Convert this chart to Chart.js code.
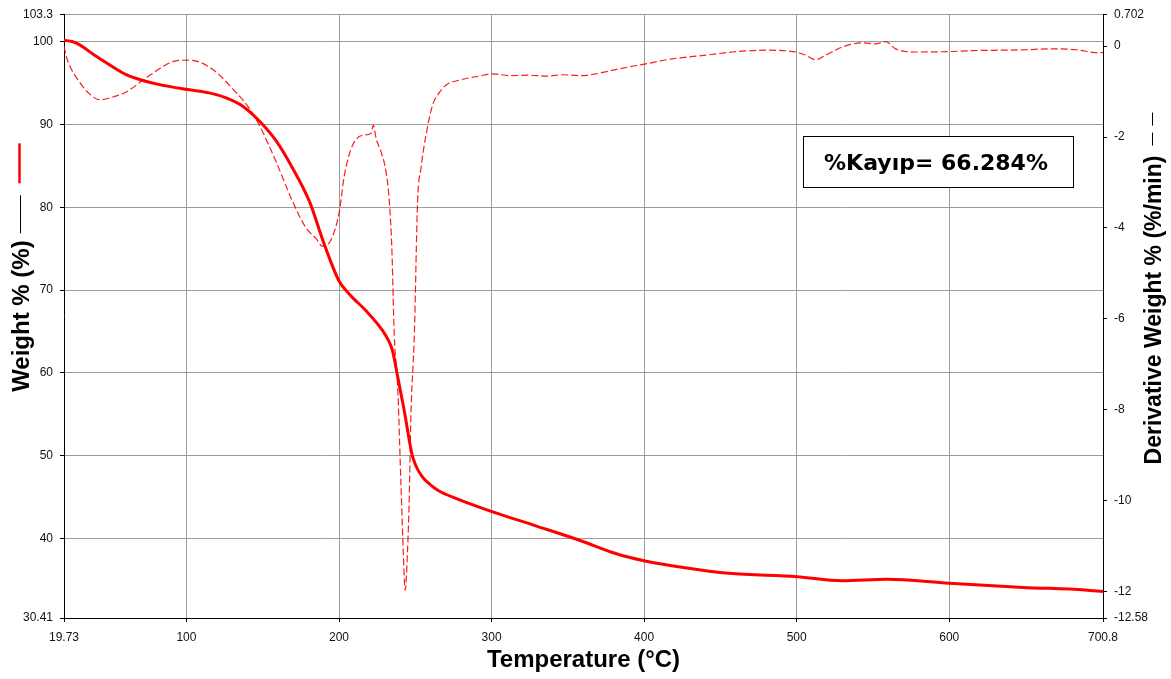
<!DOCTYPE html>
<html>
<head>
<meta charset="utf-8">
<title>TGA</title>
<script src="https://cdn.jsdelivr.net/npm/chart.js@4/dist/chart.umd.min.js"></script>
<style>
  html, body { margin: 0; padding: 0; background: #fff; }
  #wrap { position: relative; width: 1171px; height: 679px; }
</style>
</head>
<body>
<div id="wrap"><canvas id="tgaChart"></canvas></div>
<script>
// Weight loss curve (temperature in °C, weight in %)
const tempW = [19.73, 25, 30, 38.6, 49.5, 60.5, 71.4, 82.3, 100.8, 115, 126, 136.9, 147.8, 158.8, 169.6,
  180.6, 190.4, 200, 206.8, 217.7, 228.6, 233, 235.1, 238.4, 242.8, 247.8, 250.6, 254.8, 259.2, 265,
  277.4, 301.2, 328, 357.6, 381.3, 400.6, 425.8, 455.5, 500.2, 529.7, 559.3, 600, 648.4, 689, 700.8];
const weight = [100.15, 100.0, 99.6, 98.5, 97.2, 96.0, 95.3, 94.8, 94.2, 93.8, 93.2, 92.2, 90.4, 88.0, 84.7,
  80.7, 75.5, 71.1, 69.5, 67.5, 65.1, 63.7, 62.65, 59.6, 55.4, 50.2, 48.7, 47.4, 46.6, 45.8,
  44.8, 43.2, 41.6, 39.8, 38.2, 37.3, 36.5, 35.8, 35.4, 34.9, 35.1, 34.6, 34.1, 33.8, 33.6];

// Derivative weight curve (%/min)
const tempD = [19.73, 21, 23.3, 29.9, 36.4, 43, 51.7, 60.5, 71.4, 82.3, 91, 99.8, 108.5, 119.4, 130.3,
  141.2, 147.8, 158.7, 169.6, 178.4, 184.9, 189, 194.8, 200.2, 203.5, 208.9, 215.5, 221, 222.5, 224.3,
  227.5, 230.8, 233, 234.7, 236.2, 238.4, 240.6, 242.1, 243.4, 244.9, 246, 247.1, 249.4, 251.5,
  253.7, 257, 261.3, 264.6, 270.1, 278.8, 291.9, 300.6, 312, 324.7, 336, 346.5, 358, 368.4, 383.6,
  401.1, 418.5, 440.4, 457.9, 479.7, 499.4, 505.9, 512.5, 519, 529.9, 543, 551.8, 558.4, 564.9, 578,
  600, 615, 632.6, 650, 665.4, 683, 698.2, 700.8];
const deriv = [0.0, -0.2, -0.42, -0.79, -1.05, -1.18, -1.12, -1.01, -0.75, -0.50, -0.34, -0.31, -0.35, -0.57, -0.94,
  -1.37, -1.74, -2.54, -3.42, -4.0, -4.23, -4.40, -4.26, -3.64, -2.84, -2.18, -1.96, -1.92, -1.74, -2.03,
  -2.32, -2.76, -3.42, -4.52, -6.34, -7.44, -9.63, -11.1, -11.97, -11.1, -10.0, -8.17, -6.34, -3.42,
  -2.69, -1.96, -1.30, -1.08, -0.86, -0.75, -0.66, -0.61, -0.65, -0.64, -0.66, -0.63, -0.65, -0.61, -0.50,
  -0.39, -0.28, -0.20, -0.13, -0.09, -0.13, -0.20, -0.30, -0.20, -0.02, 0.07, 0.05, 0.10, -0.06, -0.13,
  -0.12, -0.10, -0.09, -0.08, -0.06, -0.08, -0.15, -0.14];

// Axis ticks
const tempTicks = [19.73, 100, 200, 300, 400, 500, 600, 700.8];
const weightTicks = [30.41, 40, 50, 60, 70, 80, 90, 100, 103.3];
const derivTicks = [-12.58, -12, -10, -8, -6, -4, -2, 0, 0.702];

const lossText = '%Kayıp= 66.284%';

const tickFont = { family: '"Liberation Sans", Arial, sans-serif', size: 12 };
const titleFamily = '"Liberation Sans", Arial, sans-serif';

const toPoints = (xs, ys) => xs.map((x, i) => ({ x: x, y: ys[i] }));

// gray grid inside, nothing on the lines that sit on the frame
const gridColor = (ends) => (c) => (c.tick && ends.includes(c.tick.value) ? 'rgba(0,0,0,0)' : '#9c9c9c');

// axis titles, the little line keys next to them and the loss box
const decorPlugin = {
  id: 'decor',
  afterDraw(chart) {
    const { ctx, chartArea: a } = chart;
    ctx.save();
    ctx.fillStyle = '#000';
    ctx.textAlign = 'center';
    ctx.textBaseline = 'middle';
    ctx.font = 'bold 24px ' + titleFamily;
    ctx.fillText('Temperature (°C)', (a.left + a.right) / 2, 660);

    // left title, read bottom to top
    const leftText = 'Weight % (%)';
    ctx.font = 'bold 24px ' + titleFamily;
    const lw = ctx.measureText(leftText).width;
    const lc = (a.top + a.bottom) / 2;
    ctx.save();
    ctx.translate(22, lc);
    ctx.rotate(-Math.PI / 2);
    ctx.fillText(leftText, 0, 0);
    ctx.restore();
    const lTop = lc - lw / 2;
    ctx.strokeStyle = '#000';
    ctx.lineWidth = 1;
    ctx.beginPath();
    ctx.moveTo(20.5, lTop - 7);
    ctx.lineTo(20.5, lTop - 45);
    ctx.stroke();
    ctx.strokeStyle = '#ff0000';
    ctx.lineWidth = 2.5;
    ctx.beginPath();
    ctx.moveTo(19.5, lTop - 57);
    ctx.lineTo(19.5, lTop - 97);
    ctx.stroke();

    // right title
    const rightText = 'Derivative Weight % (%/min)';
    ctx.font = 'bold 23px ' + titleFamily;
    const rw = ctx.measureText(rightText).width;
    const rc = 310;
    ctx.save();
    ctx.translate(1155, rc);
    ctx.rotate(-Math.PI / 2);
    ctx.fillText(rightText, 0, 0);
    ctx.restore();
    const rTop = rc - rw / 2;
    ctx.strokeStyle = '#000';
    ctx.lineWidth = 1;
    ctx.setLineDash([13, 7]);
    ctx.beginPath();
    ctx.moveTo(1152.5, rTop - 10);
    ctx.lineTo(1152.5, rTop - 45);
    ctx.stroke();
    ctx.setLineDash([]);

    // mass loss box
    ctx.fillStyle = '#fff';
    ctx.fillRect(803, 136, 270, 51);
    ctx.strokeStyle = '#000';
    ctx.lineWidth = 1;
    ctx.strokeRect(803.5, 136.5, 270, 51);
    ctx.fillStyle = '#000';
    ctx.font = 'bold 22px "DejaVu Sans", Verdana, sans-serif';
    ctx.fillText(lossText, 936, 164);
    ctx.restore();
  }
};

new Chart(document.getElementById('tgaChart'), {
  type: 'line',
  data: {
    datasets: [
      {
        label: 'Weight %',
        data: toPoints(tempW, weight),
        yAxisID: 'y',
        borderColor: '#ff0000',
        borderWidth: 3,
        pointRadius: 0,
        fill: false,
        cubicInterpolationMode: 'monotone'
      },
      {
        label: 'Derivative Weight %',
        data: toPoints(tempD, deriv),
        yAxisID: 'y1',
        borderColor: 'rgba(255, 0, 0, 0.9)',
        borderWidth: 1.2,
        borderDash: [7, 3],
        pointRadius: 0,
        fill: false,
        cubicInterpolationMode: 'monotone'
      }
    ]
  },
  options: {
    responsive: true,
    maintainAspectRatio: false,
    animation: false,
    layout: { padding: { top: 12, left: 0, right: 0, bottom: 0 } },
    plugins: {
      legend: { display: false },
      tooltip: { enabled: false }
    },
    scales: {
      x: {
        type: 'linear',
        position: 'bottom',
        min: 19.73,
        max: 700.8,
        afterBuildTicks: axis => { axis.ticks = tempTicks.map(v => ({ value: v })); },
        afterFit: axis => { axis.height = 61; },
        ticks: { color: '#111', font: tickFont, padding: 8, maxRotation: 0, autoSkip: false, callback: v => String(v) },
        grid: { color: gridColor([19.73, 700.8]), tickColor: '#000', tickLength: 4 },
        border: { color: '#000', width: 1 }
      },
      y: {
        position: 'left',
        min: 30.41,
        max: 103.3,
        afterBuildTicks: axis => { axis.ticks = weightTicks.map(v => ({ value: v })); },
        afterFit: axis => { axis.width = 64; },
        ticks: { color: '#111', font: tickFont, padding: 7, autoSkip: false, callback: v => String(v) },
        grid: { color: gridColor([30.41]), tickColor: '#000', tickLength: 4 },
        border: { color: '#000', width: 1 }
      },
      y1: {
        position: 'right',
        min: -12.58,
        max: 0.702,
        afterBuildTicks: axis => { axis.ticks = derivTicks.map(v => ({ value: v })); },
        afterFit: axis => { axis.width = 68; },
        ticks: { color: '#111', font: tickFont, padding: 7, autoSkip: false, callback: v => String(v) },
        grid: { drawOnChartArea: false, tickColor: '#000', tickLength: 4 },
        border: { color: '#000', width: 1 }
      }
    }
  },
  plugins: [decorPlugin]
});
</script>
</body>
</html>
